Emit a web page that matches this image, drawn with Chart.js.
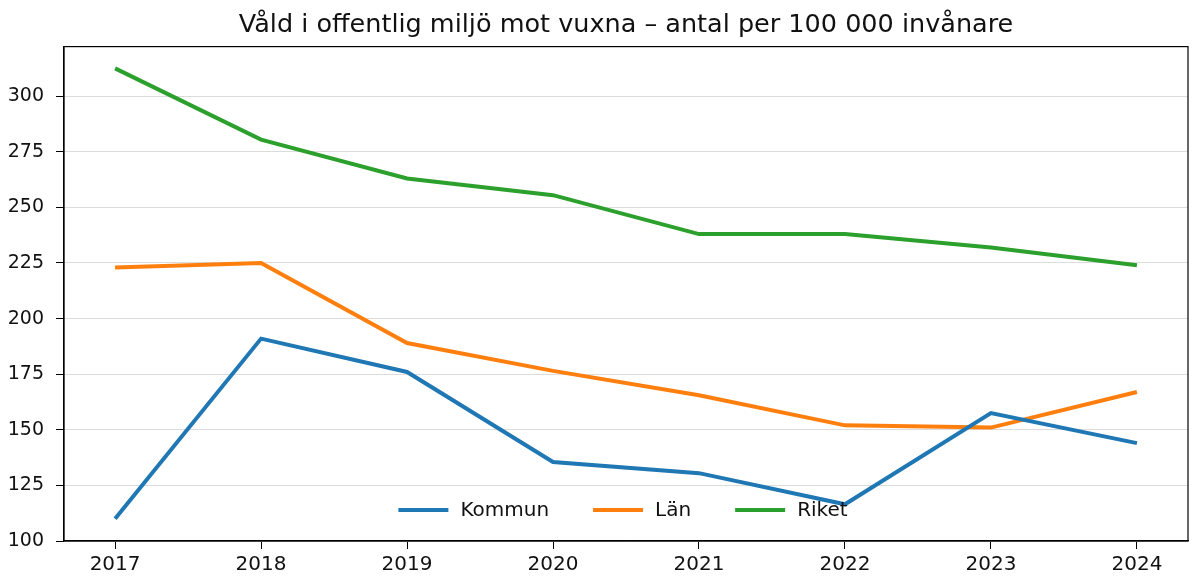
<!DOCTYPE html>
<html>
<head>
<meta charset="utf-8">
<script src="https://cdn.jsdelivr.net/npm/chart.js@4.4.1/dist/chart.umd.min.js"></script>
<style>
  html, body { margin: 0; padding: 0; background: #fff; }
  #wrap { width: 1192px; height: 578px; }
</style>
</head>
<body>
<div id="wrap"><canvas id="myChart" width="1192" height="578"></canvas></div>
<script>
// years on the x axis
const years = [2017, 2018, 2019, 2020, 2021, 2022, 2023, 2024]

// per 100 000 invånare
const kommun = [110, 191, 176, 135.5, 130.5, 116.5, 157.5, 144]
const lan    = [223, 225, 189, 176.5, 165.5, 152, 151, 167]
const riket  = [312.5, 280.5, 263, 255.5, 238, 238, 232, 224]

const y_ticks = [100, 125, 150, 175, 200, 225, 250, 275, 300]

const FONT = 'DejaVu Sans'

function to_points(values){
    return years.map((yr, i) => ({x: yr, y: values[i]}))
}

function make_line(label, values, color){
    return {
        label: label,
        data: to_points(values),
        borderColor: color,
        backgroundColor: color,
        borderWidth: 4,
        pointRadius: 0,
        tension: 0,
        fill: false
    }
}

// title centred over the plot, not the whole canvas
const title_over_plot = {
    id: 'titleOverPlot',
    afterLayout(chart){
        const t = chart.titleBlock
        if (!t) return
        t.left = chart.chartArea.left
        t.right = chart.chartArea.right
        t.width = t.right - t.left
    }
}

// frame round the plot, like the top/right spines
const frame_plugin = {
    id: 'frame',
    afterDraw(chart){
        const a = chart.chartArea
        const c = chart.ctx
        c.save()
        c.strokeStyle = '#000'
        c.lineWidth = 1.2
        c.strokeRect(a.left, a.top, a.right - a.left, a.bottom - a.top)
        c.restore()
    }
}

// legend drawn inside the plot, bottom centre, no box
const inner_legend = {
    id: 'innerLegend',
    afterDatasetsDraw(chart){
        const a = chart.chartArea
        const c = chart.ctx
        const sets = chart.data.datasets
        const handle = 50, gap = 12, between = 44
        c.save()
        c.font = '20px "' + FONT + '"'
        let total = 0
        const widths = sets.map(ds => c.measureText(ds.label).width)
        widths.forEach((w, i) => { total += handle + gap + w + (i ? between : 0) })
        let x = (a.left + a.right) / 2 - total / 2 - 3
        const y = a.bottom - 31
        sets.forEach((ds, i) => {
            c.strokeStyle = ds.borderColor
            c.lineWidth = 4
            c.beginPath()
            c.moveTo(x, y)
            c.lineTo(x + handle, y)
            c.stroke()
            c.fillStyle = '#111'
            c.textBaseline = 'middle'
            c.textAlign = 'left'
            c.fillText(ds.label, x + handle + gap, y + 1)
            x += handle + gap + widths[i] + between
        })
        c.restore()
    }
}

const config = {
    type: 'line',
    data: {
        datasets: [
            make_line('Kommun', kommun, '#1f77b4'),
            make_line('Län', lan, '#ff7f0e'),
            make_line('Riket', riket, '#2ca02c')
        ]
    },
    options: {
        responsive: false,
        animation: false,
        layout: { padding: { left: 0, right: 4, top: 0, bottom: 0 } },
        plugins: {
            legend: { display: false },
            tooltip: { enabled: false },
            title: {
                display: true,
                text: 'Våld i offentlig miljö mot vuxna – antal per 100 000 invånare',
                color: '#111',
                font: { family: FONT, size: 25.5, weight: 'normal' },
                padding: { top: 10, bottom: 6 }
            }
        },
        scales: {
            x: {
                type: 'linear',
                min: 2016.65,
                max: 2024.35,
                afterBuildTicks: s => { s.ticks = years.map(v => ({value: v})) },
                afterFit: s => { s.height = 37 },
                ticks: {
                    color: '#111',
                    font: { family: FONT, size: 20 },
                    padding: 4,
                    maxRotation: 0,
                    autoSkip: false,
                    callback: v => String(v)
                },
                grid: {
                    drawOnChartArea: false,
                    drawTicks: true,
                    tickLength: 8,
                    tickColor: '#000'
                },
                border: { display: true, color: '#000', width: 1.2 }
            },
            y: {
                min: 100,
                max: 322.3,
                afterBuildTicks: s => { s.ticks = y_ticks.map(v => ({value: v})) },
                afterFit: s => { s.width = 64 },
                ticks: {
                    color: '#111',
                    font: { family: FONT, size: 19 },
                    padding: 12
                },
                grid: {
                    color: '#dcdcdc',
                    lineWidth: 1,
                    tickLength: 8,
                    tickColor: '#000'
                },
                border: { display: true, color: '#000', width: 1.2 }
            }
        }
    },
    plugins: [title_over_plot, frame_plugin, inner_legend]
}

var ctx = document.getElementById('myChart').getContext('2d')
var myChart = new Chart(ctx, config)
</script>
</body>
</html>
